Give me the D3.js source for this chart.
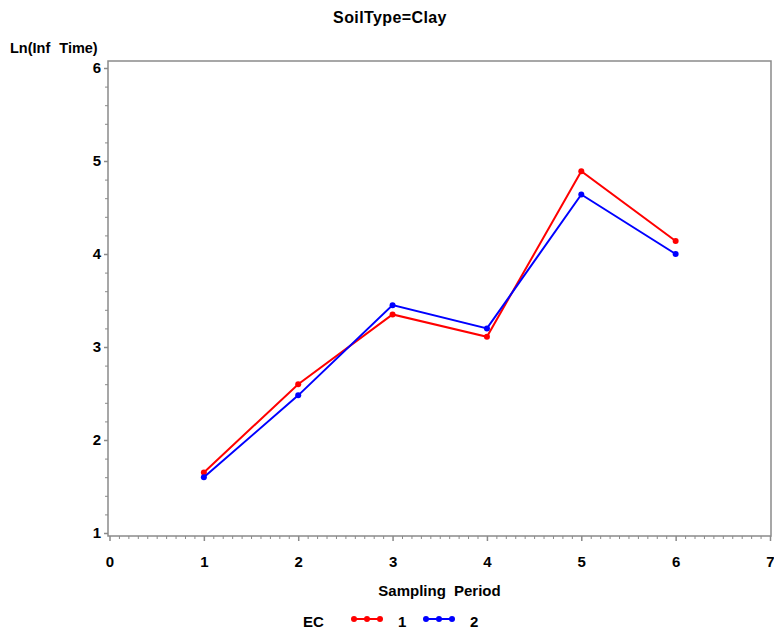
<!DOCTYPE html>
<html><head><meta charset="utf-8">
<script src="https://cdn.jsdelivr.net/npm/d3@7"></script>
<style>
html,body{margin:0;padding:0;background:#fff;}
text{font-family:"Liberation Sans",Arial,sans-serif;font-weight:bold;fill:#000;}
</style></head>
<body>
<svg id="chart" width="774" height="633"></svg>
<script>
const periods = [1, 2, 3, 4, 5, 6];
const ec1 = [1.65, 2.60, 3.35, 3.11, 4.89, 4.14];
const ec2 = [1.60, 2.48, 3.45, 3.20, 4.64, 4.00];
const seriesNames = ["1", "2"];
const seriesColors = ["#ff0000", "#0000ff"];
const xTicks = [0, 1, 2, 3, 4, 5, 6, 7];
const yTicks = [1, 2, 3, 4, 5, 6];
const title = "SoilType=Clay";
const xLabel = "Sampling Period";
const yLabel = "Ln(Inf Time)";
const legendTitle = "EC";

(function () {
const svg = d3.select("#chart");
const pLeft = 108, pRight = 771, pTop = 61, pBottom = 536;
const x = d3.scaleLinear().domain([0, 7]).range([109.5, 770]);
const y = d3.scaleLinear().domain([1, 6]).range([533, 68]);
const axisColor = "#8a8a8a";

// frame
svg.append("rect").attr("x", pLeft).attr("y", pTop)
  .attr("width", pRight - pLeft).attr("height", pBottom - pTop)
  .attr("fill", "none").attr("stroke", axisColor).attr("stroke-width", 1.5);

// minor ticks
const xMinor = d3.range(0, 7.0001, 0.1).filter(v => Math.abs(v - Math.round(v)) > 1e-6);
const yMinor = d3.range(1, 6.0001, 0.2).filter(v => Math.abs(v - Math.round(v)) > 1e-6);

const styleText = g => g.selectAll("text").attr("font-size", 15)
  .attr("font-family", "Liberation Sans, Arial, sans-serif")
  .attr("font-weight", "bold").attr("fill", "#000");

svg.append("g").attr("transform", `translate(0,${pBottom})`)
  .call(d3.axisBottom(x).tickValues(xMinor).tickSize(3).tickFormat(""))
  .call(g => g.select(".domain").remove())
  .call(g => g.selectAll("line").attr("stroke", axisColor).attr("stroke-width", 1));
svg.append("g").attr("transform", `translate(0,${pBottom})`)
  .call(d3.axisBottom(x).tickValues(xTicks).tickSize(5).tickPadding(15).tickFormat(d3.format("d")))
  .call(g => g.select(".domain").remove())
  .call(g => g.selectAll("line").attr("stroke", axisColor).attr("stroke-width", 1.5))
  .call(styleText);

svg.append("g").attr("transform", `translate(${pLeft},0)`)
  .call(d3.axisLeft(y).tickValues(yMinor).tickSize(3).tickFormat(""))
  .call(g => g.select(".domain").remove())
  .call(g => g.selectAll("line").attr("stroke", axisColor).attr("stroke-width", 1));
svg.append("g").attr("transform", `translate(${pLeft},0)`)
  .call(d3.axisLeft(y).tickValues(yTicks).tickSize(4).tickPadding(3).tickFormat(d3.format("d")))
  .call(g => g.select(".domain").remove())
  .call(g => g.selectAll("line").attr("stroke", axisColor).attr("stroke-width", 1.5))
  .call(styleText);

// series
const series = [ec1, ec2];
const line = d3.line().x(d => x(d[0])).y(d => y(d[1]));
series.forEach((vals, i) => {
  const pts = periods.map((p, j) => [p, vals[j]]);
  svg.append("path").datum(pts).attr("d", line)
    .attr("fill", "none").attr("stroke", seriesColors[i]).attr("stroke-width", 2);
  svg.append("g").selectAll("circle").data(pts).join("circle")
    .attr("cx", d => x(d[0])).attr("cy", d => y(d[1])).attr("r", 3)
    .attr("fill", seriesColors[i]);
});

// titles
svg.append("text").attr("x", 390).attr("y", 23).attr("text-anchor", "middle")
  .attr("font-size", 16).attr("letter-spacing", 0.4).text(title);
svg.append("text").attr("x", 10).attr("y", 53).attr("font-size", 14.5)
  .attr("word-spacing", 5).text(yLabel);
svg.append("text").attr("x", (pLeft + pRight) / 2).attr("y", 596).attr("text-anchor", "middle")
  .attr("font-size", 15).attr("word-spacing", 4).text(xLabel);

// legend
const ly = 619;
svg.append("text").attr("x", 303).attr("y", 627).attr("font-size", 15).text(legendTitle);
const legendX = [352, 424];
seriesNames.forEach((n, i) => {
  const g = svg.append("g");
  const x0 = legendX[i], x1 = x0 + 30;
  g.append("line").attr("x1", x0).attr("x2", x1).attr("y1", ly).attr("y2", ly)
    .attr("stroke", seriesColors[i]).attr("stroke-width", 2);
  g.selectAll("circle").data([x0 + 2, x0 + 15, x0 + 28]).join("circle")
    .attr("cx", d => d).attr("cy", ly).attr("r", 3).attr("fill", seriesColors[i]);
  g.append("text").attr("x", x1 + 16).attr("y", 627).attr("font-size", 15).text(n);
});
})();
</script>
</body></html>
